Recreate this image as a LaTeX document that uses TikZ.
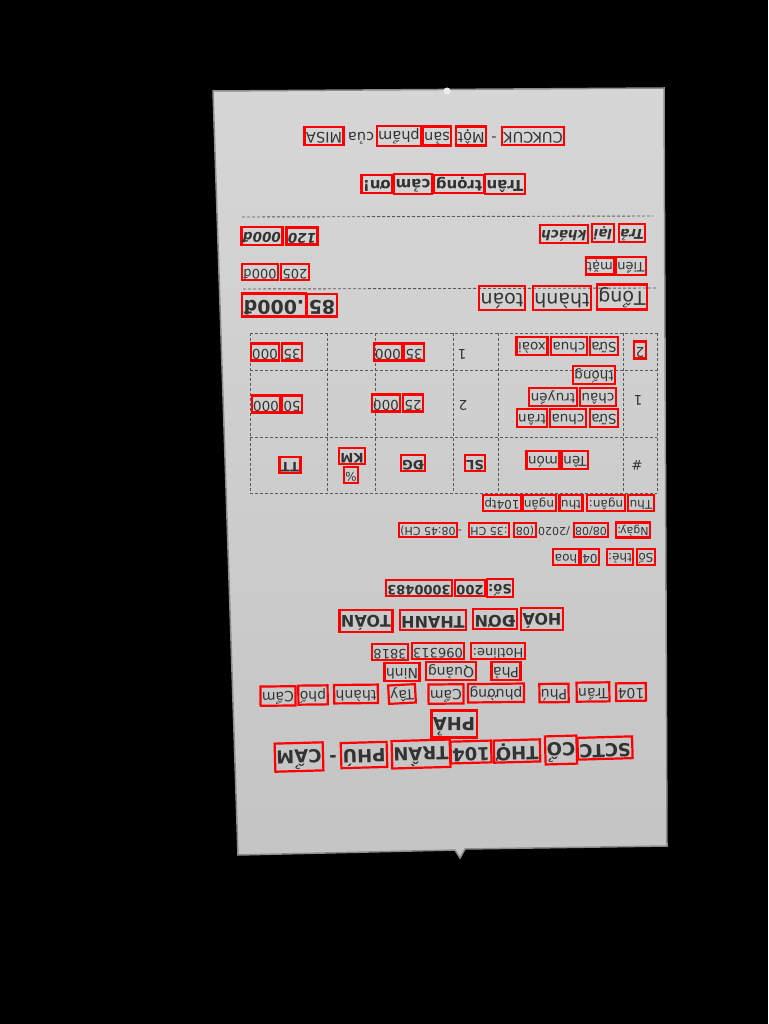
\documentclass[tikz,border=0pt]{standalone}
\usepackage{fontspec}
\setmainfont{DejaVu Sans}
\usetikzlibrary{positioning}
\newcommand\rcfs[1]{\fontsize{#1}{#1}\selectfont}
\tikzset{ocr/.style={word, draw=red, line width=2.2pt}}

\begin{document}
\begin{tikzpicture}[x=1pt, y=-1pt,
                    paper/.style = {top color = black!16, bottom color = black!23, draw = black!45, line width = 1.5pt},
                    rule/.style = {dash pattern = on 3pt off 2pt, line width = 0.9pt, color = black!65},
                    word/.style = {rotate = 180, inner sep = 1.5pt, text = black!80, execute at begin node = \strut}]
    \useasboundingbox (0,0) rectangle (768,1024);
    \fill[black] (0,0) rectangle (768,1024);
    %paper
    \shade[paper] (213,91) -- (664,88) -- (667,846) -- (465,849) -- (460,858) -- (455,850) -- (238,855) -- cycle;
    \fill[black!8] (447,91) circle (3.5);
    %rules
    \draw[rule] (242,217) -- (653,216);
    \draw[rule] (243,289) -- (657,288);
    %table
    \foreach \Xcoor in {250, 327, 375, 453, 498, 623, 657}
        \draw[rule] (\Xcoor,333) -- (\Xcoor,493);
    \foreach \Ycoor in {333, 370, 437, 493}
        \draw[rule] (250,\Ycoor) -- (657,\Ycoor);
    %footer
    \begin{scope}[font=\rcfs{14.5}]
        \node[ocr] (cukcuk) at (533,136) {CUKCUK};
        \node[word] (dashA) at (494,136) {-};
        \node[ocr] (mot) at (471,136) {Một};
        \node[ocr] (san) at (437,136) {sản};
        \node[ocr] (pham) at (399,136) {phẩm};
        \node[word] (cua) at (361,136) {của};
        \node[ocr] (misa) at (324,136) {MISA};
    \end{scope}
    \begin{scope}[font={\bfseries\rcfs{15}}]
        \node[ocr] (tran) at (505,184) {Trân};
        \node[ocr] (trong) at (459,184) {trọng};
        \node[ocr] (cam) at (413,184) {cảm};
        \node[ocr] (on) at (377,184) {ơn!};
    \end{scope}
    %totals
    \begin{scope}[font={\bfseries\itshape\rcfs{13.5}}]
        \node[ocr] (tra) at (632,233) {Trả};
        \node[ocr] (lai) at (603,233) {lại};
        \node[ocr] (khach) at (564,234) {khách};
        \node[ocr] (traA) at (302,236) {120};
        \node[ocr] (traB) at (262,236) {000đ};
    \end{scope}
    \begin{scope}[font=\rcfs{13}]
        \node[ocr] (tien) at (631,266) {Tiền};
        \node[ocr] (mat) at (600,266) {mặt};
        \node[ocr] (tienA) at (295,272) {205};
        \node[ocr] (tienB) at (260,272) {000đ};
    \end{scope}
    \begin{scope}[font=\rcfs{19}]
        \node[ocr] (tong) at (622,297) {Tổng};
        \node[ocr] (thanh) at (562,298) {thành};
        \node[ocr] (toan) at (502,298) {toán};
        \node[ocr, font={\bfseries\rcfs{19}}] (tongA) at (322,305) {85};
        \node[ocr, font={\bfseries\rcfs{19}}] (tongB) at (274,305) {.000đ};
    \end{scope}
    %table header
    \begin{scope}[font=\rcfs{13.5}]
        \node[word] (hash) at (637,463) {\#};
        \node[ocr] (ten) at (575,460) {Tên};
        \node[ocr] (mon) at (543,460) {món};
        \node[ocr, font={\bfseries\rcfs{13}}] (sl) at (475,463) {SL};
        \node[ocr, font={\bfseries\rcfs{13}}] (dg) at (413,463) {ĐG};
        \node[ocr, font={\bfseries\rcfs{13}}] (km) at (352,456) {KM};
        \node[ocr, font=\rcfs{12}] (pct) at (351,475) {\%};
        \node[ocr, font={\bfseries\rcfs{13}}] (tt) at (290,465) {TT};
    \end{scope}
    %row 1
    \begin{scope}[font=\rcfs{13.5}]
        \node[word] (noA) at (638,398) {1};
        \node[ocr] (suaA) at (604,418) {Sữa};
        \node[ocr] (chuaA) at (568,418) {chua};
        \node[ocr] (tranA) at (532,418) {trân};
        \node[ocr] (chau) at (598,397) {châu};
        \node[ocr] (truyen) at (553,397) {truyền};
        \node[ocr] (thong) at (594,375) {thống};
        \node[word] (slA) at (463,403) {2};
        \node[ocr] (dgA) at (413,403) {25};
        \node[ocr] (dgB) at (386,403) {000};
        \node[ocr] (ttA) at (292,404) {50};
        \node[ocr] (ttB) at (266,404) {000};
    \end{scope}
    %row 2
    \begin{scope}[font=\rcfs{13.5}]
        \node[ocr] (noB) at (640,350) {2};
        \node[ocr] (suaB) at (604,346) {Sữa};
        \node[ocr] (chuaB) at (569,346) {chua};
        \node[ocr] (xoai) at (532,346) {xoài};
        \node[word] (slB) at (462,352) {1};
        \node[ocr] (dgC) at (414,352) {35};
        \node[ocr] (dgD) at (388,352) {000};
        \node[ocr] (ttC) at (292,352) {35};
        \node[ocr] (ttD) at (265,352) {000};
    \end{scope}
    %info
    \begin{scope}[font=\rcfs{12}]
        \node[ocr] (thu) at (641,503) {Thu};
        \node[ocr] (ngan) at (606,503) {ngân:};
        \node[ocr] (thuA) at (571,503) {thu};
        \node[ocr] (nganA) at (539,503) {ngân};
        \node[ocr] (tp) at (502,503) {104tp};
    \end{scope}
    \begin{scope}[font=\rcfs{11}]
        \node[ocr] (ngay) at (633,530) {Ngày:};
        \node[ocr] (ngayA) at (591,530) {08/08};
        \node[word] (ngayB) at (554,530) {/2020};
        \node[ocr] (ngayC) at (525,530) {(08};
        \node[ocr] (ngayD) at (489,530) {:35 CH};
        \node[word] (dashB) at (460,530) {-};
        \node[ocr] (ngayE) at (428,530) {08:45 CH)};
    \end{scope}
    \begin{scope}[font=\rcfs{12}]
        \node[ocr] (so) at (646,557) {Số};
        \node[ocr] (the) at (620,557) {thẻ:};
        \node[ocr] (theA) at (590,557) {04};
        \node[ocr] (hoa) at (566,557) {hoa};
    \end{scope}
    \begin{scope}[font={\bfseries\rcfs{13}}]
        \node[ocr] (sohd) at (500,588) {Số:};
        \node[ocr] (sohdA) at (470,588) {200};
        \node[ocr] (sohdB) at (419,588) {3000483};
    \end{scope}
    %heading
    \begin{scope}[font={\bfseries\rcfs{16}}]
        \node[ocr] (hoadon) at (542,619) {HOÁ};
        \node[ocr] (don) at (495,619) {ĐƠN};
        \node[ocr] (thanhA) at (433,620) {THANH};
        \node[ocr] (toanA) at (366,621) {TOÁN};
    \end{scope}
    \begin{scope}[font=\rcfs{13}]
        \node[ocr] (hotline) at (498,651) {Hotline:};
        \node[ocr] (hotA) at (438,651) {096313};
        \node[ocr] (hotB) at (390,652) {3818};
    \end{scope}
    \begin{scope}[font=\rcfs{14}]
        \node[ocr] (pha) at (506,671) {Phả};
        \node[ocr] (quang) at (451,671) {Quảng};
        \node[ocr] (ninh) at (402,672) {Ninh};
    \end{scope}
    \begin{scope}[font=\rcfs{14}]
        \node[ocr, rotate=0.6] (so104) at (631,692) {104};
        \node[ocr, rotate=0.6] (tranPhu) at (593,692) {Trần};
        \node[ocr, rotate=0.6] (phu) at (554,693) {Phú};
        \node[ocr, rotate=0.6] (phuong) at (496,693) {phường};
        \node[ocr, rotate=0.6] (camA) at (446,694) {Cẩm};
        \node[ocr, rotate=3] (tay) at (402,694) {Tây};
        \node[ocr, rotate=0.6] (tp2) at (356,694) {thành};
        \node[ocr, rotate=0.6] (pho) at (313,695) {phố};
        \node[ocr, rotate=0.6] (camB) at (278,696) {Cẩm};
    \end{scope}
    \begin{scope}[font={\bfseries\rcfs{18}}]
        \node[ocr] (phaA) at (454,724) {PHẢ};
        \node[ocr, rotate=1.6] (sctc) at (605,748) {SCTC};
        \node[ocr, rotate=1.6] (co) at (561,750) {CỔ};
        \node[ocr, rotate=1.6] (tho) at (517,751) {THỢ};
        \node[ocr, rotate=1.6] (so104A) at (471,752) {104};
        \node[ocr, rotate=1.6] (tranB) at (421,754) {TRẦN};
        \node[ocr, rotate=1.6] (phuA) at (364,755) {PHÚ};
        \node[word, rotate=1.6] (dashC) at (333,755) {-};
        \node[ocr, rotate=1.6] (camC) at (299,757) {CẨM};
    \end{scope}
\end{tikzpicture}
\end{document}
